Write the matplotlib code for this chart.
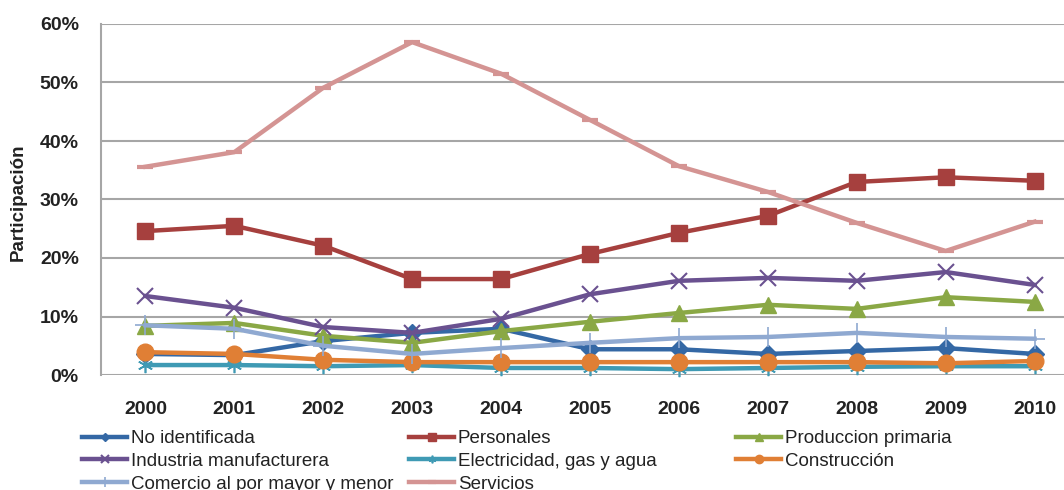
import matplotlib
matplotlib.use("Agg")
import matplotlib.pyplot as plt
from matplotlib.ticker import PercentFormatter

plt.rcParams['font.family'] = ['Liberation Sans', 'DejaVu Sans']

years = ['2000', '2001', '2002', '2003', '2004', '2005', '2006', '2007', '2008', '2009', '2010']

no_identificada = [3.6, 3.4, 5.8, 7.2, 7.9, 4.4, 4.4, 3.6, 4.1, 4.6, 3.6]
personales = [24.6, 25.5, 22.1, 16.4, 16.4, 20.7, 24.3, 27.2, 33.0, 33.8, 33.2]
produccion_primaria = [8.4, 8.9, 6.7, 5.5, 7.5, 9.1, 10.6, 12.0, 11.3, 13.3, 12.5]
industria = [13.5, 11.5, 8.2, 7.2, 9.6, 13.8, 16.1, 16.6, 16.1, 17.6, 15.4]
electricidad = [1.7, 1.7, 1.5, 1.7, 1.2, 1.2, 1.0, 1.2, 1.4, 1.5, 1.5]
construccion = [3.9, 3.6, 2.6, 2.2, 2.2, 2.2, 2.2, 2.2, 2.2, 2.0, 2.4]
comercio = [8.5, 7.9, 5.0, 3.6, 4.6, 5.5, 6.3, 6.5, 7.2, 6.5, 6.2]
servicios = [35.6, 38.1, 49.1, 56.9, 51.5, 43.6, 35.7, 31.3, 26.0, 21.2, 26.2]

# nombre, valores, color, marcador, tamaño, grosor de borde
series = [
    ('No identificada', no_identificada, '#3468A5', 'D', 9, 1),
    ('Personales', personales, '#A6403E', 's', 12, 1),
    ('Produccion primaria', produccion_primaria, '#8AA845', '^', 12, 1),
    ('Industria manufacturera', industria, '#6A5190', 'x', 11, 1.5),
    ('Electricidad, gas y agua', electricidad, '#3F9AB4', (6, 2, 0), 11, 1.2),
    ('Construcción', construccion, '#E07F35', 'o', 12, 1),
    ('Comercio al por mayor y menor', comercio, '#8FA9D1', '+', 14, 1.2),
    ('Servicios', servicios, '#D49493', '_', 11, 3),
]

fig = plt.figure(figsize=(10.64, 4.90), dpi=100)
ax = fig.add_axes([101 / 1064, 115 / 490, 978 / 1064, 351 / 490])

x = list(range(len(years)))
handles = {}
for name, vals, color, marker, ms, mew in series:
    line, = ax.plot(x, vals, color=color, lw=3.2, marker=marker, markersize=ms,
                    markeredgewidth=mew, markeredgecolor=color, markerfacecolor=color,
                    label=name, clip_on=False, solid_joinstyle='round')
    handles[name] = line

ax.set_xlim(-0.5, 10.5)
ax.set_ylim(0, 60)
ax.set_yticks(range(0, 61, 10))
ax.yaxis.set_major_formatter(PercentFormatter(decimals=0))
ax.set_xticks(x)
ax.set_xticklabels(years)
ax.tick_params(axis='both', length=0, labelsize=14, colors='#222222')
ax.tick_params(axis='x', pad=19)
ax.tick_params(axis='y', pad=16)
for lbl in ax.get_xticklabels() + ax.get_yticklabels():
    lbl.set_fontweight('bold')

ax.grid(axis='y', color='#A6A6A6', lw=1.5)
ax.set_axisbelow(True)
for s in ['top', 'right', 'bottom']:
    ax.spines[s].set_visible(False)
ax.spines['left'].set_color('#A6A6A6')
ax.spines['left'].set_linewidth(1.5)

fig.text(18 / 1064, 1 - 202 / 490, 'Participación', rotation=90, ha='center', va='center',
         fontsize=13.5, fontweight='bold', color='#222222')

# leyenda en tres columnas separadas
cols = [
    (82, ['No identificada', 'Industria manufacturera', 'Comercio al por mayor y menor']),
    (409, ['Personales', 'Electricidad, gas y agua', 'Servicios']),
    (736, ['Produccion primaria', 'Construcción']),
]
for xpix, names in cols:
    leg = fig.legend([handles[n] for n in names], names, loc='upper left',
                     bbox_to_anchor=(xpix / 1064, 1 - 430 / 490), frameon=False,
                     fontsize=13.5, handlelength=2.4, handletextpad=0.2,
                     borderpad=0, borderaxespad=0, labelspacing=0.3, markerscale=0.5)
    for t in leg.get_texts():
        t.set_color('#222222')

fig.savefig('out.png', dpi=100)
